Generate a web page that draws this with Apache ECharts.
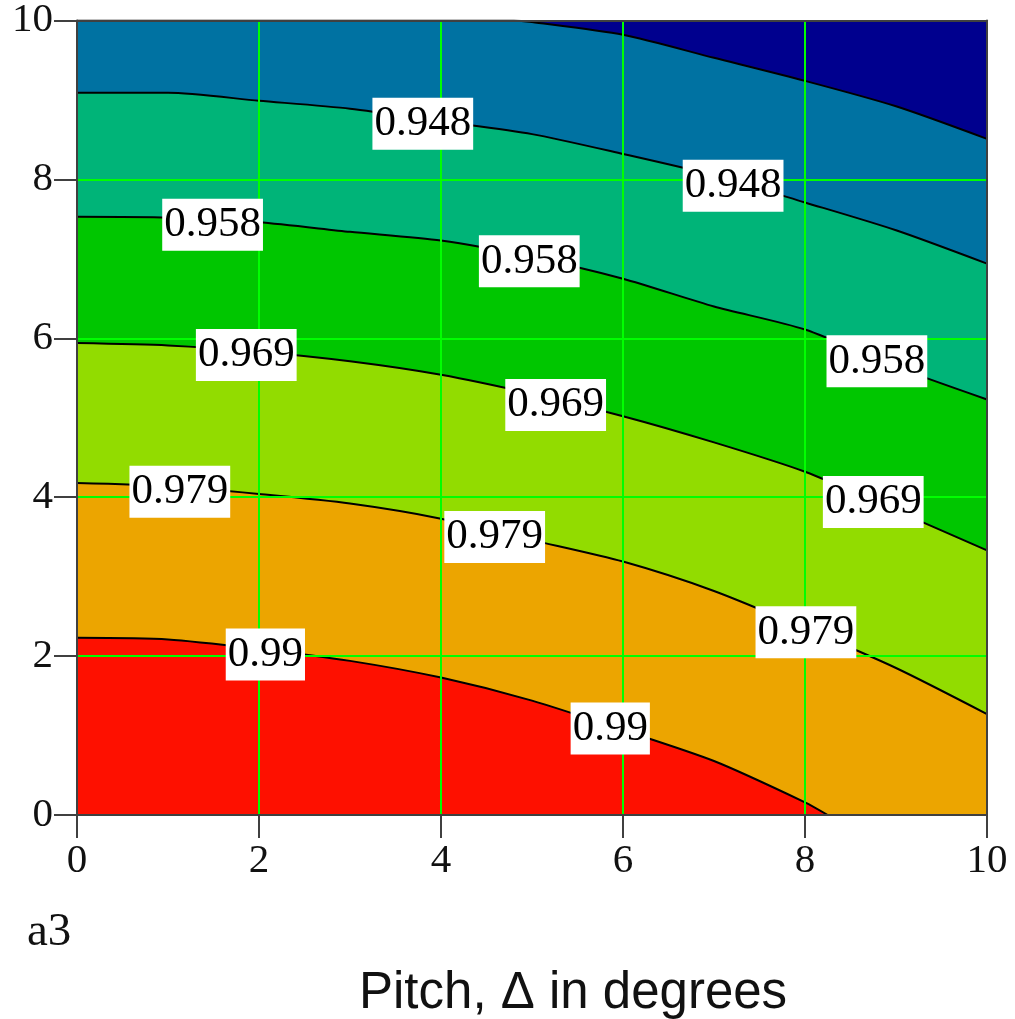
<!DOCTYPE html>
<html>
<head>
<meta charset="utf-8">
<script src="https://cdn.jsdelivr.net/npm/echarts@6/dist/echarts.min.js"></script>
<style>
  html, body { margin: 0; padding: 0; background: #fff; }
  #chart { width: 1015px; height: 1019px; }
</style>
</head>
<body>
<div id="chart"></div>
<script>
// contour boundaries, [pitch, y]
var lineNavy = [[0, 10], [4.8, 10], [5, 9.98], [6, 9.82], [7, 9.53], [8, 9.24], [9, 8.92], [10, 8.51]];
var line948 = [[0, 9.09], [1, 9.09], [2, 8.99], [3, 8.89], [4, 8.73], [5, 8.57], [6, 8.32], [7, 8.05], [8, 7.71], [9, 7.36], [10, 6.94]];
var line958 = [[0, 7.53], [1, 7.52], [2, 7.46], [3, 7.34], [4, 7.23], [5, 7.02], [6, 6.75], [7, 6.40], [8, 6.11], [9, 5.64], [10, 5.23]];
var line969 = [[0, 5.94], [1, 5.91], [2, 5.83], [3, 5.71], [4, 5.54], [5, 5.30], [6, 5.02], [7, 4.69], [8, 4.32], [9, 3.83], [10, 3.33]];
var line979 = [[0, 4.18], [1, 4.14], [2, 4.04], [3, 3.92], [4, 3.73], [5, 3.46], [6, 3.19], [7, 2.82], [8, 2.35], [9, 1.85], [10, 1.27]];
var line990 = [[0, 2.23], [1, 2.21], [2, 2.09], [3, 1.94], [4, 1.73], [5, 1.44], [6, 1.07], [7, 0.68], [8, 0.16], [8.25, 0]];

// contour labels: [x, y, text]
var contourLabels = [
  [3.80, 8.70, '0.948'], [7.21, 7.92, '0.948'],
  [1.49, 7.43, '0.958'], [4.97, 6.97, '0.958'], [8.79, 5.71, '0.958'],
  [1.86, 5.79, '0.969'], [5.26, 5.16, '0.969'], [8.75, 3.94, '0.969'],
  [1.13, 4.07, '0.979'], [4.59, 3.50, '0.979'], [8.01, 2.30, '0.979'],
  [2.07, 2.02, '0.99'], [5.86, 1.09, '0.99']
];

var xTicks = [0, 2, 4, 6, 8, 10];
var yTicks = [0, 2, 4, 6, 8, 10];

var bands = [
  {data: lineNavy, color: '#0072a2'},
  {data: line948, color: '#00b478'},
  {data: line958, color: '#00c600'},
  {data: line969, color: '#92dc00'},
  {data: line979, color: '#eca500'},
  {data: line990, color: '#fe1000'}
];

var chart = echarts.init(document.getElementById('chart'));

var serif = 'Liberation Serif';
var axisCol = '#404040';

function fillSeries(b) {
  return {
    type: 'line',
    data: b.data,
    smooth: 0.25,
    showSymbol: false,
    symbol: 'none',
    z: 2,
    lineStyle: {color: '#000', width: 2},
    areaStyle: {color: b.color, opacity: 1, origin: 'start'},
    silent: true,
    animation: false
  };
}

var series = bands.map(fillSeries);
series.push({
  type: 'scatter',
  data: contourLabels,
  symbolSize: 0,
  z: 20,
  silent: true,
  animation: false,
  itemStyle: {opacity: 1},
  label: {
    show: true,
    position: 'inside',
    formatter: function (p) { return p.data[2]; },
    fontFamily: serif,
    fontSize: 43,
    color: '#000',
    opacity: 1,
    backgroundColor: '#ffffff',
    lineHeight: 46,
    padding: [4, 2, 2, 2]
  }
});

var option = {
  animation: false,
  grid: {
    left: 77, top: 17, right: 28, bottom: 204,
    show: true,
    backgroundColor: '#00008e',
    borderWidth: 0
  },
  xAxis: [{
    type: 'value',
    min: xTicks[0], max: xTicks[xTicks.length - 1], interval: 2,
    z: 5,
    axisLine: {show: true, lineStyle: {color: axisCol, width: 2}},
    axisTick: {show: true, inside: false, length: 23, lineStyle: {color: axisCol, width: 2}},
    axisLabel: {fontFamily: serif, fontSize: 41, color: '#111', margin: 26},
    splitLine: {show: true, showMinLine: false, showMaxLine: false, lineStyle: {color: '#00ff00', width: 2}}
  }, {
    type: 'value', position: 'top',
    min: 0, max: 10, interval: 2, z: 5,
    axisLine: {show: true, onZero: false, lineStyle: {color: axisCol, width: 2}},
    axisTick: {show: false}, axisLabel: {show: false}, splitLine: {show: false}
  }],
  yAxis: [{
    type: 'value',
    min: yTicks[0], max: yTicks[yTicks.length - 1], interval: 2,
    z: 5,
    axisLine: {show: true, lineStyle: {color: axisCol, width: 2}},
    axisTick: {show: true, inside: false, length: 23, lineStyle: {color: axisCol, width: 2}},
    axisLabel: {fontFamily: serif, fontSize: 41, color: '#111', margin: 24, padding: [14, 0, 0, 0]},
    splitLine: {show: true, showMinLine: false, showMaxLine: false, lineStyle: {color: '#00ff00', width: 2}}
  }, {
    type: 'value', position: 'right',
    min: 0, max: 10, interval: 2, z: 5,
    axisLine: {show: true, onZero: false, lineStyle: {color: axisCol, width: 2}},
    axisTick: {show: false}, axisLabel: {show: false}, splitLine: {show: false}
  }],
  graphic: [{
    type: 'text', left: 27, top: 909,
    style: {text: 'a3', fontFamily: serif, fontSize: 47, fill: '#111'}
  }, {
    type: 'text', left: 359, top: 968,
    style: {text: 'Pitch, \u0394 in degrees', fontFamily: 'Liberation Sans', fontSize: 51, fill: '#111'}
  }],
  series: series
};

chart.setOption(option);
</script>
</body>
</html>
